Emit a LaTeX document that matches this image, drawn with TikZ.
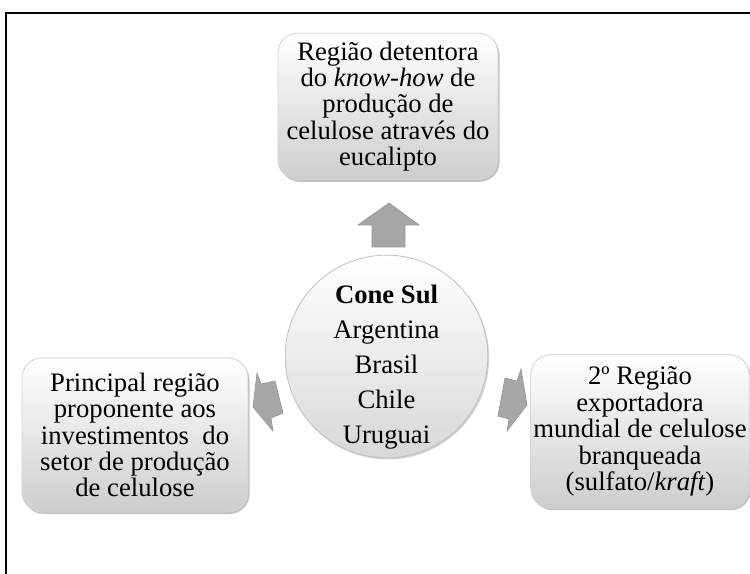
\documentclass[tikz,border=0pt]{standalone}
\usepackage{fontspec}
\setmainfont{Liberation Serif}
\usetikzlibrary{shadows}

\tikzset{every picture/.style={line width=0.75pt}}

\begin{document}
\begin{tikzpicture}[x=0.75pt,y=0.75pt,yscale=-1,xscale=1,
    box/.style={rounded corners=15pt,draw={rgb, 255:red, 210; green, 210; blue, 210 },line width=0.6pt,
        top color=white,bottom color={rgb, 255:red, 205; green, 205; blue, 205 },
        drop shadow={shadow xshift=1.2pt,shadow yshift=-1.5pt,fill=gray!80,opacity=0.6},
        align=center,inner sep=2pt,font=\fontsize{20}{19.8}\selectfont},
    hub/.style={circle,draw={rgb, 255:red, 190; green, 190; blue, 190 },line width=0.6pt,
        top color=white,bottom color={rgb, 255:red, 215; green, 215; blue, 215 },
        drop shadow={shadow xshift=1pt,shadow yshift=-1.2pt,fill=gray!70,opacity=0.5},
        minimum size=152pt,inner sep=0pt},
    blockarrow/.style={fill={rgb, 255:red, 166; green, 166; blue, 166 },draw={rgb, 255:red, 150; green, 150; blue, 150 },line width=0.5pt}
    ]
    \useasboundingbox (0,0) rectangle (750,574);

    %Straight Lines: frame
    \draw [line width=1.5]  (6,574) -- (6,13) -- (750,13) ;

    %Shape: Circle
    \node (hub) [hub] at (386.5,356.5) {};
    % Text Node
    \node (hubtext) [align=center,inner sep=0pt,font=\fontsize{20}{26.2}\selectfont] at (386.5,367)
        {\textbf{Cone Sul}\\Argentina\\Brasil\\Chile\\Uruguai};

    %Shape: Rounded Rect (top)
    \node (knowhow) [box,minimum width=165pt,minimum height=110pt] at (388,106.5)
        {Região detentora\\do \textit{know-how} de\\produção de\\celulose através do\\eucalipto};
    %Shape: Rounded Rect (left)
    \node (invest) [box,minimum width=169.5pt,minimum height=115.5pt] at (135,435)
        {Principal região\\proponente aos\\investimentos\ \ do\\setor de produção\\de celulose};
    %Shape: Rounded Rect (right)
    \node (export) [box,minimum width=160.5pt,minimum height=115pt] at (640,431.5)
        {2º Região\\exportadora\\mundial de celulose\\branqueada\\(sulfato/\textit{kraft})};

    %Shape: Up Arrow
    \draw [blockarrow]  (389,203) -- (419,225) -- (405,225) -- (405,247) -- (372,247) -- (372,225) -- (358,225) -- cycle ;
    %Shape: Left Arrow
    \draw [blockarrow]  (257,373) -- (261,384) -- (275,381) -- (283,413) -- (271,418) -- (273,431) -- (253,407) -- cycle ;
    %Shape: Right Arrow
    \draw [blockarrow]  (521,369) -- (517,381) -- (505,378) -- (498,416) -- (509,419) -- (507,431) -- (527,405) -- cycle ;

\end{tikzpicture}
\end{document}
